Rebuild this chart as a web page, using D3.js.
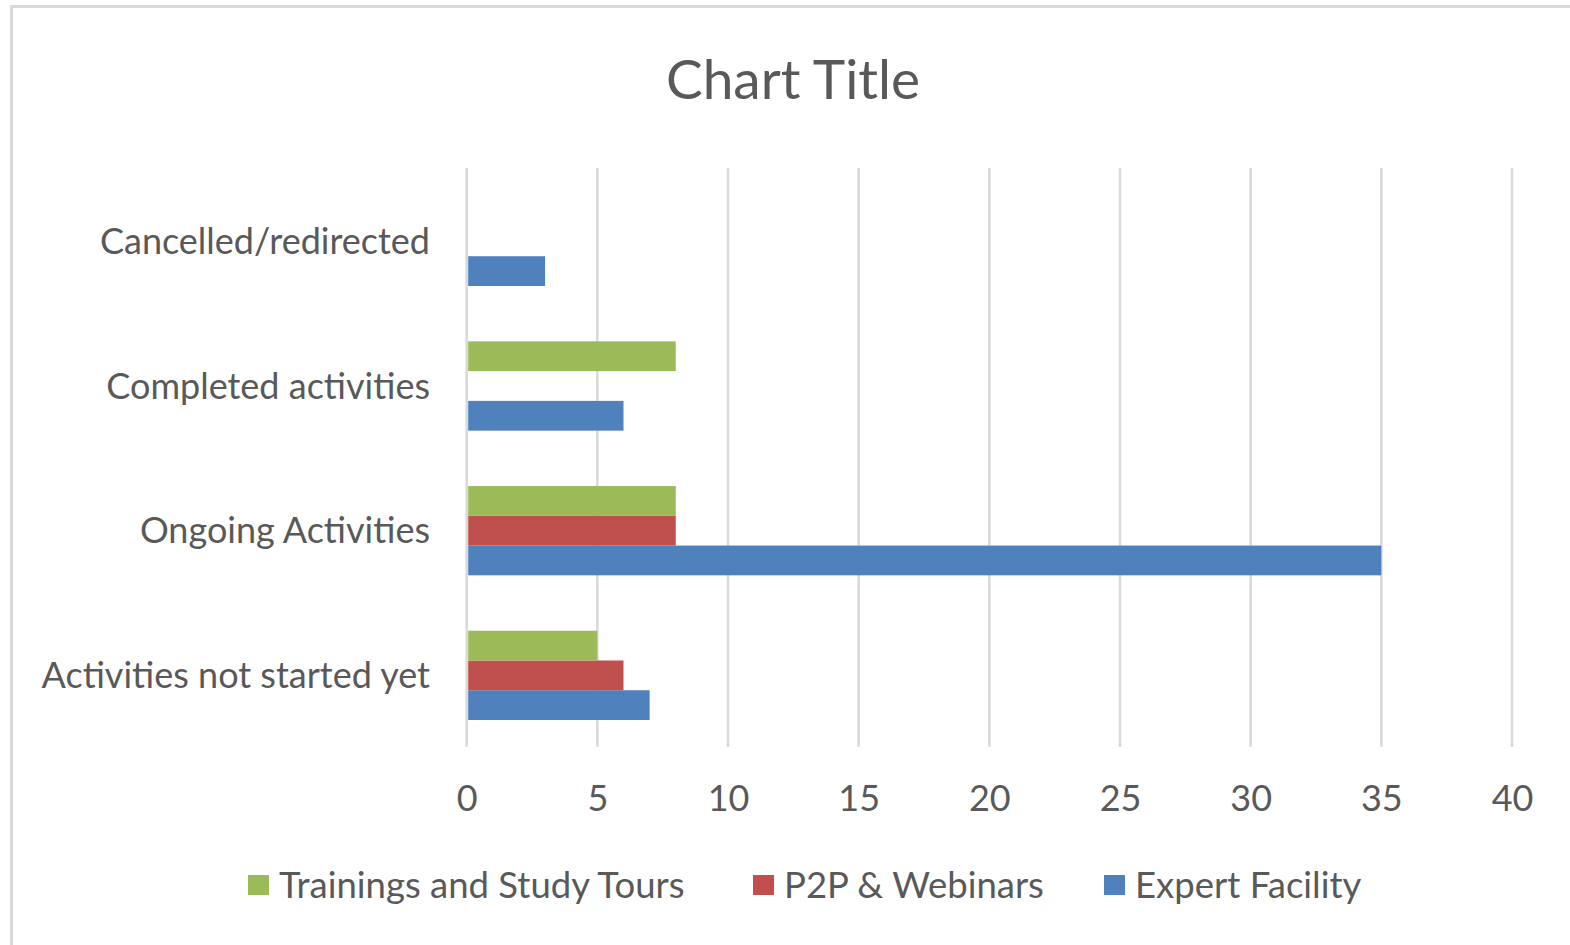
<!DOCTYPE html>
<html>
<head>
<meta charset="utf-8">
<script src="https://cdn.jsdelivr.net/npm/d3@7"></script>
<style>
  html, body { margin: 0; padding: 0; background: #fff; }
  svg { display: block; }
  text { font-family: Lato, "Open Sans", sans-serif; fill: #595959; }
</style>
</head>
<body>
<svg id="chart" width="1570" height="945"></svg>
<script>
// ---- data ----
const categories = ["Activities not started yet", "Ongoing Activities", "Completed activities", "Cancelled/redirected"];
const seriesNames = ["Expert Facility", "P2P & Webinars", "Trainings and Study Tours"];
const expertFacility = [7, 35, 6, 3];
const p2pWebinars = [6, 8, 0, 0];
const trainingsStudyTours = [5, 8, 8, 0];
const xTicks = [0, 5, 10, 15, 20, 25, 30, 35, 40];
const seriesColors = ["#4F81BD", "#C0504D", "#9BBB59"];
const chartTitle = "Chart Title";

const seriesValues = [expertFacility, p2pWebinars, trainingsStudyTours];

const svg = d3.select("#chart");

// outer border
svg.append("rect")
  .attr("x", 11.5).attr("y", 6.5)
  .attr("width", 1600).attr("height", 1000)
  .attr("fill", "none").attr("stroke", "#d9d9d9").attr("stroke-width", 3);

const plot = { left: 466.7, right: 1512, top: 168, bottom: 746.7 };

const x = d3.scaleLinear().domain([0, 40]).range([plot.left, plot.right]);
// categories drawn bottom -> top
const y = d3.scaleBand().domain(categories).range([plot.bottom + 1, plot.top + 1])
  .paddingInner(0.383).paddingOuter(0.1915);
// series within group: first series at bottom
const ySub = d3.scaleBand().domain(seriesNames).range([y.bandwidth(), 0]);

// grid lines
svg.append("g").selectAll("line").data(xTicks).join("line")
  .attr("x1", d => x(d)).attr("x2", d => x(d))
  .attr("y1", plot.top).attr("y2", plot.bottom)
  .attr("stroke", "#d9d9d9").attr("stroke-width", 2.5);

// bars
const groups = svg.append("g").selectAll("g").data(categories).join("g")
  .attr("transform", c => `translate(0,${y(c)})`);
groups.selectAll("rect")
  .data((c, i) => seriesNames.map((s, j) => ({ s, v: seriesValues[j][i], color: seriesColors[j] })))
  .join("rect")
  .attr("x", x(0) + 1.5)
  .attr("y", d => ySub(d.s))
  .attr("height", ySub.bandwidth())
  .attr("width", d => Math.max(0, x(d.v) - x(0) - 1.5))
  .attr("fill", d => d.color);

// x tick labels
const xAxis = d3.axisBottom(x).tickValues(xTicks).tickSize(0).tickPadding(0);
const xg = svg.append("g").attr("transform", `translate(0,${798})`).call(xAxis);
xg.select(".domain").remove();
xg.selectAll("text").attr("font-size", 36).attr("dy", "0.35em").attr("y", 0)
  .style("font-family", "Lato").attr("fill", "#595959");

// category labels
const yAxis = d3.axisLeft(y).tickSize(0).tickPadding(0);
const yg = svg.append("g").attr("transform", `translate(430,0)`).call(yAxis);
yg.select(".domain").remove();
yg.selectAll("text").attr("font-size", 36).attr("dy", "0.35em").attr("x", 0)
  .style("font-family", "Lato").attr("fill", "#595959");

// title
svg.append("text").attr("x", 793).attr("y", 80).attr("dy", "0.35em")
  .attr("text-anchor", "middle").attr("font-size", 55).text(chartTitle);

// legend (reversed order)
const legendItems = [
  { name: seriesNames[2], color: seriesColors[2], x: 248 },
  { name: seriesNames[1], color: seriesColors[1], x: 753 },
  { name: seriesNames[0], color: seriesColors[0], x: 1104 }
];
const lg = svg.append("g").selectAll("g").data(legendItems).join("g")
  .attr("transform", d => `translate(${d.x},885)`);
lg.append("rect").attr("x", 0).attr("y", -10).attr("width", 21).attr("height", 20)
  .attr("fill", d => d.color);
lg.append("text").attr("x", 31).attr("dy", "0.35em").attr("font-size", 36.5).text(d => d.name);
</script>
</body>
</html>
